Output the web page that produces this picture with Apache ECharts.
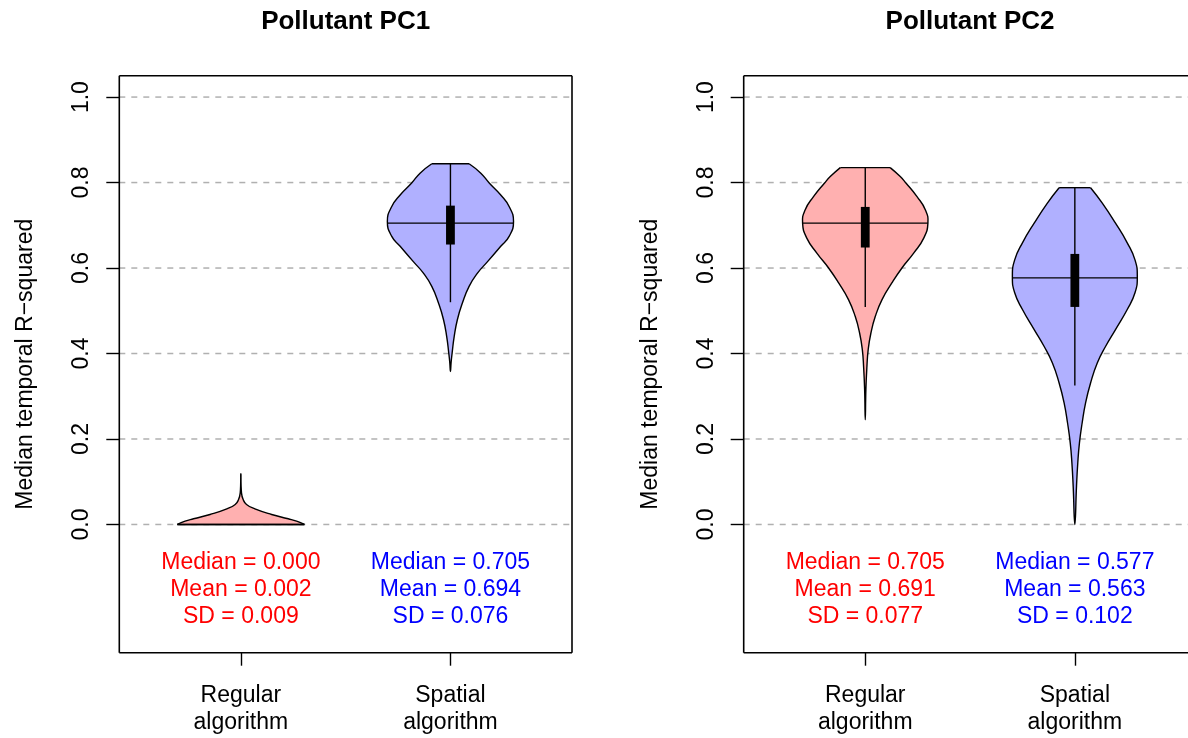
<!DOCTYPE html>
<html><head><meta charset="utf-8">
<script src="https://cdn.jsdelivr.net/npm/echarts@6/dist/echarts.min.js"></script>
<style>html,body{margin:0;padding:0;background:#fff}#c{width:1188px;height:738px}</style>
</head><body><div id="c"></div>
<script>
// ---------------- data ----------------
const categories = ['Regular\nalgorithm', 'Spatial\nalgorithm'];
const panelTitles = ['Pollutant PC1', 'Pollutant PC2'];
const yTicks = [0, 0.2, 0.4, 0.6, 0.8, 1.0];
const yAxisTitle = 'Median temporal R\u2212squared';

// violin outlines: [R-squared value, half width (x units)]
const pc1RegularViolin = [[0.000,0.303],[0.0078,0.266],[0.0133,0.226],[0.0234,0.147],[0.0366,0.067],[0.0468,0.027],[0.0584,0.011],[0.074,0.003],[0.119,0]];
const pc1SpatialViolin = [[0.358,0],[0.378,0.003],[0.401,0.008],[0.440,0.018],[0.479,0.033],[0.518,0.057],[0.557,0.089],[0.588,0.129],[0.615,0.177],[0.651,0.240],[0.674,0.280],[0.709,0.301],[0.744,0.280],[0.771,0.240],[0.799,0.185],[0.822,0.145],[0.844,0.089]];
const pc2RegularViolin = [[0.245,0],[0.316,0.003],[0.370,0.008],[0.409,0.014],[0.448,0.027],[0.487,0.048],[0.526,0.080],[0.565,0.127],[0.600,0.175],[0.635,0.231],[0.670,0.279],[0.705,0.299],[0.736,0.287],[0.767,0.247],[0.799,0.194],[0.814,0.167],[0.835,0.119]];
const pc2SpatialViolin = [[0.000,0],[0.090,0.008],[0.144,0.014],[0.191,0.022],[0.238,0.035],[0.284,0.051],[0.331,0.075],[0.378,0.107],[0.417,0.147],[0.456,0.194],[0.503,0.250],[0.542,0.287],[0.580,0.298],[0.619,0.287],[0.659,0.250],[0.705,0.194],[0.752,0.131],[0.788,0.075]];

const pc1Medians = [0.000, 0.705];
const pc1Means   = [0.002, 0.694];
const pc1SDs     = [0.009, 0.076];
const pc1Q1      = [0.000, 0.655];
const pc1Q3      = [0.000, 0.746];
const pc1WhiskerLow  = [0.000, 0.520];
const pc1WhiskerHigh = [0.000, 0.844];

const pc2Medians = [0.705, 0.577];
const pc2Means   = [0.691, 0.563];
const pc2SDs     = [0.077, 0.102];
const pc2Q1      = [0.648, 0.509];
const pc2Q3      = [0.743, 0.633];
const pc2WhiskerLow  = [0.509, 0.325];
const pc2WhiskerHigh = [0.835, 0.788];

// ---------------- style / layout ----------------
const FONT = '"Liberation Sans", Arial, Helvetica, sans-serif';
const FONT_SIZE = 23;
const FILL_COLORS = ['#ffb0b0', '#b0b0ff'];
const TEXT_COLORS = ['#ff0000', '#0000ff'];
const X_MIN = 0.42, X_MAX = 2.58, Y_MIN = -0.3, Y_MAX = 1.05;
const GRIDS = [
  {left: 119.3, top: 75.7, width: 452.7, height: 577},
  {left: 743.7, top: 75.7, width: 452.7, height: 577}
];
const BOX_HALF = 0.021;
const STATS_Y = -0.1526;

const panels = [
  {violins: [pc1RegularViolin, pc1SpatialViolin], med: pc1Medians, mean: pc1Means, sd: pc1SDs,
   q1: pc1Q1, q3: pc1Q3, wl: pc1WhiskerLow, wh: pc1WhiskerHigh},
  {violins: [pc2RegularViolin, pc2SpatialViolin], med: pc2Medians, mean: pc2Means, sd: pc2SDs,
   q1: pc2Q1, q3: pc2Q3, wl: pc2WhiskerLow, wh: pc2WhiskerHigh}
];

function widthAt(prof, v) {
  for (let i = 0; i < prof.length - 1; i++) {
    const a = prof[i], b = prof[i + 1];
    if (v >= a[0] && v <= b[0]) {
      const t = (b[0] === a[0]) ? 0 : (v - a[0]) / (b[0] - a[0]);
      return a[1] + t * (b[1] - a[1]);
    }
  }
  return v <= prof[0][0] ? prof[0][1] : prof[prof.length - 1][1];
}

function violinRenderer(panel) {
  return function (params, api) {
    const i = params.dataIndex;
    const pos = i + 1;
    const prof = panel.violins[i];
    const topFlat = prof[prof.length - 1][1] > 0;
    const left = prof.map(p => api.coord([pos - p[1], p[0]]));
    const right = prof.map(p => api.coord([pos + p[1], p[0]]));
    let pts;
    if (topFlat) {
      const l = left.slice().reverse();
      const r = right.slice(prof[0][1] === 0 ? 1 : 0);
      pts = l.concat(r);
    } else {
      const l = left.slice();
      const r = right.slice(0, prof[prof.length - 1][1] === 0 ? prof.length - 1 : prof.length).reverse();
      pts = l.concat(r);
    }
    const children = [];
    children.push({
      type: 'polyline', shape: {points: pts, smooth: 0.5},
      style: {fill: FILL_COLORS[i], stroke: '#000', lineWidth: 1.4}
    });
    const endP = topFlat ? prof[prof.length - 1] : prof[0];
    const e1 = api.coord([pos - endP[1], endP[0]]), e2 = api.coord([pos + endP[1], endP[0]]);
    children.push({type: 'line', shape: {x1: e1[0], y1: e1[1], x2: e2[0], y2: e2[1]},
      style: {stroke: '#000', lineWidth: 1.4}});
    const w1 = api.coord([pos, panel.wl[i]]), w2 = api.coord([pos, panel.wh[i]]);
    children.push({type: 'line', shape: {x1: w1[0], y1: w1[1], x2: w2[0], y2: w2[1]},
      style: {stroke: '#000', lineWidth: 1.4}});
    const b1 = api.coord([pos - BOX_HALF, panel.q3[i]]), b2 = api.coord([pos + BOX_HALF, panel.q1[i]]);
    children.push({type: 'rect', shape: {x: b1[0], y: b1[1], width: b2[0] - b1[0], height: b2[1] - b1[1]},
      style: {fill: '#000'}});
    const hw = widthAt(prof, panel.med[i]);
    const m1 = api.coord([pos - hw, panel.med[i]]), m2 = api.coord([pos + hw, panel.med[i]]);
    children.push({type: 'line', shape: {x1: m1[0], y1: m1[1], x2: m2[0], y2: m2[1]},
      style: {stroke: '#000', lineWidth: 1.4}});
    const t = api.coord([pos, STATS_Y]);
    children.push({type: 'text', x: t[0], y: t[1], style: {
      text: 'Median = ' + panel.med[i].toFixed(3) + '\nMean = ' + panel.mean[i].toFixed(3) + '\nSD = ' + panel.sd[i].toFixed(3),
      fill: TEXT_COLORS[i], fontSize: FONT_SIZE, fontFamily: FONT, align: 'center', verticalAlign: 'middle', lineHeight: 26.7
    }});
    return {type: 'group', children: children};
  };
}

function gridLineRenderer(params, api) {
  const v = api.value(1);
  const y = api.coord([1, v])[1];
  const cs = params.coordSys;
  return {type: 'line', shape: {x1: cs.x, y1: y, x2: cs.x + cs.width, y2: y},
    style: {stroke: '#b0b0b0', lineWidth: 1.5, lineDash: [6, 6]}};
}

// plot frame: four sides drawn from the coordinate system rectangle
function frameRenderer(params, api) {
  const cs = params.coordSys;
  const x0 = cs.x, y0 = cs.y, x1 = cs.x + cs.width, y1 = cs.y + cs.height;
  const st = {stroke: '#000', lineWidth: 1.6};
  const sides = [[x0, y0, x1, y0], [x0, y1, x1, y1], [x0, y0, x0, y1], [x1, y0, x1, y1]];
  return {type: 'group', children: sides.map(s => ({
    type: 'line', shape: {x1: s[0], y1: s[1], x2: s[2], y2: s[3]}, style: st}))};
}

const option = {
  animation: false,
  backgroundColor: '#fff',
  grid: GRIDS.map(g => Object.assign({show: false, containLabel: false, outerBoundsMode: 'none'}, g)),
  xAxis: GRIDS.map((g, k) => ({
    gridIndex: k, type: 'value', min: X_MIN, max: X_MAX, position: 'bottom',
    axisLine: {show: false, onZero: false},
    splitLine: {show: false},
    axisTick: {show: true, customValues: [1, 2], length: 13, lineStyle: {color: '#000', width: 1.4}},
    axisLabel: {show: true, customValues: [1, 2], formatter: v => categories[Math.round(v) - 1],
      margin: 30, fontSize: FONT_SIZE, lineHeight: 26.7, color: '#000', fontFamily: FONT}
  })),
  yAxis: GRIDS.map((g, k) => ({
    gridIndex: k, type: 'value', min: Y_MIN, max: Y_MAX, position: 'left',
    axisLine: {show: false, onZero: false},
    splitLine: {show: false},
    axisTick: {show: true, customValues: yTicks, length: 13, lineStyle: {color: '#000', width: 1.4}},
    axisLabel: {show: true, customValues: yTicks, formatter: v => v.toFixed(1), rotate: 90,
      margin: 26, fontSize: FONT_SIZE, color: '#000', fontFamily: FONT},
    name: yAxisTitle, nameLocation: 'middle', nameRotate: 90, nameGap: 82,
    nameTextStyle: {fontSize: FONT_SIZE, color: '#000', fontFamily: FONT}
  })),
  graphic: GRIDS.map((g, k) => ({
    type: 'text', x: g.left + g.width / 2, y: 22,
    style: {text: panelTitles[k], fontSize: 26, fontWeight: 'bold', fontFamily: FONT, fill: '#000',
      align: 'center', verticalAlign: 'middle'}
  })),
  series: []
};

panels.forEach((panel, k) => {
  option.series.push({
    type: 'custom', xAxisIndex: k, yAxisIndex: k, z: 1, silent: true,
    data: yTicks.map(v => [1, v]), encode: {x: 0, y: 1},
    renderItem: gridLineRenderer
  });
  option.series.push({
    type: 'custom', xAxisIndex: k, yAxisIndex: k, z: 2, silent: true,
    data: [[1, 0], [2, 0]], encode: {x: 0, y: 1},
    renderItem: violinRenderer(panel)
  });
  option.series.push({
    type: 'custom', xAxisIndex: k, yAxisIndex: k, z: 3, silent: true,
    data: [[1, 0]], encode: {x: 0, y: 1},
    renderItem: frameRenderer
  });
});

const chart = echarts.init(document.getElementById('c'), null, {renderer: 'canvas'});
chart.setOption(option);
</script></body></html>
